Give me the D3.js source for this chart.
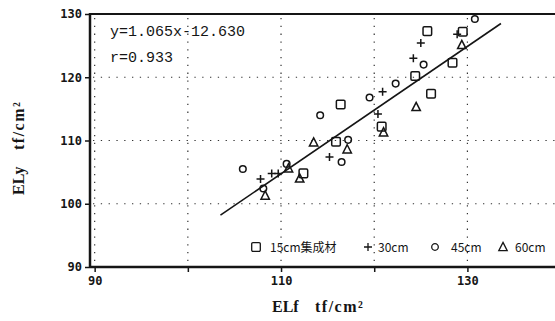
<!DOCTYPE html>
<html>
<head>
<meta charset="utf-8">
<script src="https://cdn.jsdelivr.net/npm/d3@7"></script>
<style>
  body { margin: 0; background: #fff; }
  svg { display: block; }
</style>
</head>
<body>
<div id="chart"></div>
<script>
let width = 555;
let height = 321;
let margin = ({top: 14, right: 0, bottom: 54, left: 90});

// data (ELf, ELy in tf/cm2)
let sq15 = [[125.7,127.3],[129.5,127.2],[128.4,122.3],[124.4,120.2],[126.1,117.4],
            [116.4,115.7],[115.9,109.8],[112.4,104.8],[120.8,112.2]];
let plus30 = [[128.9,126.8],[125.0,125.4],[124.2,123.0],[120.9,117.7],[120.4,114.2],
              [115.2,107.4],[109.0,104.8],[109.7,104.8],[107.8,103.9]];
let circ45 = [[130.8,129.2],[125.3,122.0],[122.3,119.0],[119.5,116.8],[114.2,114.0],
              [105.9,105.5],[110.6,106.3],[117.2,110.1],[116.5,106.6],[108.1,102.4]];
let tri60 = [[129.4,125.1],[124.5,115.3],[113.5,109.7],[117.1,108.6],[110.8,105.6],
             [112.0,104.0],[108.3,101.3],[121.0,111.3]];
let fitLine = [[103.5,98.2],[133.6,128.5]];

let xTicks = [90, 100, 110, 120, 130];
let xTickLabels = ["90", "", "110", "", "130"];
let yTicks = [90, 100, 110, 120, 130];
let legendLabels = ["15cm集成材", "30cm", "45cm", "60cm"];

let svg = d3.select("#chart").append("svg")
    .attr("width", width)
    .attr("height", height);

let x = d3.scaleLinear().domain([89.5, 139.4]).range([margin.left, width - margin.right]);
let y = d3.scaleLinear().domain([90, 130]).range([height - margin.bottom, margin.top]);

let ink = "#151515";

// dotted grid
let grid = svg.append("g")
    .attr("stroke", "#333")
    .attr("stroke-width", 1.2)
    .attr("stroke-dasharray", "1.3,6.5");
grid.selectAll(".vg").data(xTicks).join("line")
    .attr("x1", d => x(d)).attr("x2", d => x(d))
    .attr("y1", y(130) + 4).attr("y2", y(90) - 2);
grid.selectAll(".hg").data(yTicks.slice(1, 4)).join("line")
    .attr("class", "hg")
    .attr("x1", x(89.5) + 3).attr("x2", width)
    .attr("y1", d => y(d)).attr("y2", d => y(d));

// axes
let xAxis = d3.axisBottom(x).tickValues(xTicks)
    .tickFormat((d, i) => xTickLabels[i]).tickSize(5).tickPadding(4);
let yAxis = d3.axisLeft(y).tickValues(yTicks).tickSize(5).tickPadding(3);

let gx = svg.append("g").attr("transform", "translate(0," + y(90) + ")").call(xAxis);
let gy = svg.append("g").attr("transform", "translate(" + x(89.5) + ",0)").call(yAxis);
[gx, gy].forEach(g => {
    g.select(".domain").remove();
    g.selectAll(".tick line").attr("stroke", ink).attr("stroke-width", 1.5);
    g.selectAll(".tick text")
        .attr("fill", ink)
        .style("font-family", "'DejaVu Sans Mono', monospace")
        .style("font-weight", "bold")
        .style("font-size", "12px");
});

// frame
svg.append("line").attr("x1", x(89.5)).attr("x2", x(89.5)).attr("y1", y(130) - 1).attr("y2", y(90) + 1)
    .attr("stroke", ink).attr("stroke-width", 2.5);
svg.append("line").attr("x1", x(89.5)).attr("x2", width).attr("y1", y(90)).attr("y2", y(90))
    .attr("stroke", ink).attr("stroke-width", 2.5);
svg.append("line").attr("x1", x(89.5)).attr("x2", width).attr("y1", y(130)).attr("y2", y(130))
    .attr("stroke", ink).attr("stroke-width", 2);

// regression line
svg.append("path")
    .datum(fitLine)
    .attr("d", d3.line().x(d => x(d[0])).y(d => y(d[1])))
    .attr("fill", "none").attr("stroke", ink).attr("stroke-width", 1.6);

// marker shapes
function drawMarker(g, kind) {
    if (kind === 0) {
        g.append("rect").attr("x", -4.3).attr("y", -4.3).attr("width", 8.6).attr("height", 8.6).attr("rx", 1.2);
    } else if (kind === 1) {
        g.append("path").attr("d", "M-4,0H4M0,-4V4");
    } else if (kind === 2) {
        g.append("circle").attr("r", 3.3);
    } else {
        g.append("path").attr("d", "M0,-4.6L4.2,3.6H-4.2Z");
    }
}

let series = [sq15, plus30, circ45, tri60];
series.forEach((data, k) => {
    svg.append("g").selectAll("g").data(data).join("g")
        .attr("transform", d => "translate(" + x(d[0]) + "," + y(d[1]) + ")")
        .attr("fill", "none").attr("stroke", ink).attr("stroke-width", 1.5)
        .each(function() { drawMarker(d3.select(this), k); });
});

// equation text
let eq = svg.append("g")
    .style("font-family", "'Liberation Mono', monospace")
    .style("font-size", "15px")
    .attr("fill", ink);
eq.append("text").attr("x", 110).attr("y", 36).text("y=1.065x-12.630");
eq.append("text").attr("x", 110).attr("y", 62).text("r=0.933");

// legend
let legendX = [256, 368, 435, 503];
let legendTextX = [270, 378, 451, 515];
let lg = svg.append("g");
legendLabels.forEach((lab, k) => {
    let m = lg.append("g").attr("transform", "translate(" + legendX[k] + ",247)")
        .attr("fill", "none").attr("stroke", ink).attr("stroke-width", 1.3);
    drawMarker(m, k);
    lg.append("text").attr("x", legendTextX[k]).attr("y", 251.5)
        .style("font-family", "'Noto Sans CJK JP', sans-serif")
        .style("font-size", "12px")
        .attr("fill", ink)
        .text(lab);
});

// axis titles
function axisTitle(g, name, unitOffset) {
    let t = g.append("text")
        .style("font-family", "'Liberation Serif', serif")
        .style("font-weight", "bold")
        .style("font-size", "16px")
        .attr("fill", ink);
    t.append("tspan").attr("x", 0).attr("y", 0).text(name);
    t.append("tspan").attr("x", unitOffset).attr("y", 0)
        .style("letter-spacing", "1.5px").text("tf/cm²");
}

axisTitle(svg.append("g").attr("transform", "translate(272,312)"), "ELf", 43);
axisTitle(svg.append("g").attr("transform", "translate(24,195) rotate(-90)"), "ELy", 45);
</script>
</body>
</html>
